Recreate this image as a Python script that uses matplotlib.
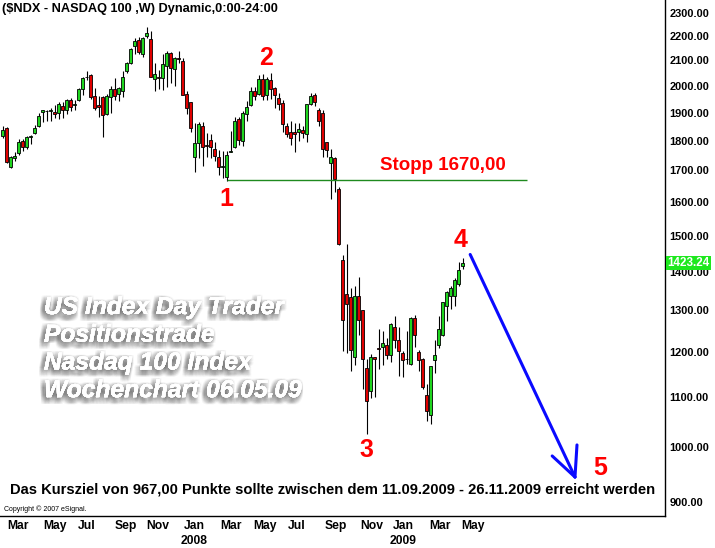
import numpy as np
import matplotlib
matplotlib.use('Agg')
import matplotlib.pyplot as plt
import matplotlib.patheffects as pe
from matplotlib.ticker import FixedLocator, FixedFormatter, NullLocator

plt.rcParams['font.family'] = ['Liberation Sans', 'DejaVu Sans']

# weekly candles, NDX, Feb 2007 - May 2009
opens = [1816, 1844, 1713, 1740, 1757, 1798, 1780, 1813, 1828, 1851,
         1903, 1905, 1905, 1903, 1900, 1923, 1908, 1947, 1927, 1945,
         1988, 2033, 2041, 1961, 1928, 1958, 1893, 1958, 1988, 1970,
         1981, 2057, 2091, 2158, 2185, 2126, 2201, 2190, 2028, 2036,
         2031, 2076, 2128, 2066, 2110, 2097, 1970, 1938, 1743, 1792,
         1853, 1785, 1803, 1773, 1743, 1710, 1680, 1763, 1780, 1878,
         1800, 1895, 1927, 1982, 1970, 2026, 1965, 2022, 1992, 1953,
         1934, 1853, 1832, 1832, 1832, 1838, 1825, 1932, 1966, 1910,
         1897, 1794, 1724, 1742, 1641, 1433, 1341, 1333, 1189, 1336,
         1301, 1163, 1113, 1189, 1210, 1212, 1217, 1192, 1260, 1228,
         1198, 1183, 1173, 1281, 1200, 1185, 1104, 1063, 1181, 1217,
         1240, 1311, 1336, 1336, 1367, 1414]
highs = [1851, 1848, 1747, 1760, 1805, 1805, 1815, 1819, 1855, 1897,
         1911, 1911, 1915, 1926, 1940, 1940, 1949, 1952, 1947, 1992,
         2034, 2057, 2045, 1990, 1961, 1960, 1967, 1998, 2030, 1997,
         2056, 2095, 2152, 2192, 2197, 2198, 2240, 2221, 2090, 2062,
         2125, 2140, 2135, 2115, 2137, 2108, 1982, 1940, 1863, 1866,
         1866, 1826, 1823, 1795, 1767, 1764, 1764, 1833, 1884, 1884,
         1905, 1944, 1997, 1997, 2041, 2047, 2034, 2050, 1997, 1972,
         1947, 1862, 1868, 1862, 1862, 1850, 1933, 1971, 1971, 1917,
         1911, 1796, 1770, 1745, 1648, 1446, 1475, 1356, 1363, 1387,
         1301, 1183, 1196, 1189, 1255, 1250, 1233, 1268, 1286, 1260,
         1203, 1250, 1283, 1288, 1205, 1187, 1128, 1169, 1228, 1285,
         1321, 1348, 1363, 1382, 1426, 1438]
lows = [1809, 1724, 1709, 1730, 1752, 1765, 1770, 1788, 1825, 1848,
        1865, 1871, 1868, 1880, 1875, 1880, 1895, 1905, 1911, 1944,
        1965, 2023, 1950, 1911, 1884, 1812, 1890, 1900, 1947, 1944,
        1957, 2048, 2087, 2125, 2125, 2115, 2194, 2036, 1982, 1987,
        1985, 1997, 2010, 2000, 2088, 1966, 1893, 1831, 1696, 1740,
        1716, 1743, 1741, 1732, 1686, 1677, 1667, 1760, 1774, 1786,
        1783, 1870, 1925, 1947, 1964, 1945, 1948, 1950, 1915, 1911,
        1831, 1812, 1786, 1760, 1800, 1810, 1797, 1927, 1924, 1850,
        1743, 1743, 1610, 1630, 1474, 1203, 1198, 1156, 1171, 1240,
        1117, 1025, 1098, 1100, 1161, 1171, 1185, 1177, 1210, 1145,
        1143, 1173, 1171, 1212, 1158, 1117, 1051, 1045, 1152, 1210,
        1238, 1274, 1303, 1311, 1361, 1408]
closes = [1839, 1728, 1744, 1748, 1795, 1778, 1812, 1816, 1845, 1887,
          1909, 1906, 1910, 1896, 1931, 1911, 1945, 1922, 1932, 1988,
          2030, 2034, 1958, 1918, 1922, 1890, 1960, 1988, 1960, 1992,
          2035, 2091, 2147, 2180, 2136, 2193, 2212, 2036, 2047, 2029,
          2084, 2130, 2071, 2108, 2106, 1966, 1915, 1846, 1792, 1860,
          1780, 1782, 1780, 1747, 1710, 1715, 1752, 1766, 1869, 1802,
          1900, 1920, 1982, 1961, 2026, 1960, 2025, 1987, 1966, 1931,
          1860, 1822, 1811, 1825, 1841, 1826, 1930, 1962, 1938, 1870,
          1772, 1769, 1744, 1673, 1477, 1275, 1316, 1205, 1336, 1277,
          1183, 1092, 1189, 1183, 1208, 1222, 1192, 1267, 1228, 1203,
          1181, 1184, 1281, 1240, 1181, 1121, 1071, 1169, 1192, 1255,
          1321, 1346, 1356, 1377, 1404, 1423.24]

month_pos = [3.9, 13.1, 21.1, 30.9, 38.9, 47.9, 57.1, 65.6, 73.6, 83.4,
             92.4, 100.1, 109.4, 117.6]
month_labels = ['Mar', 'May', 'Jul', 'Sep', 'Nov', 'Jan\n2008', 'Mar', 'May',
                'Jul', 'Sep', 'Nov', 'Jan\n2009', 'Mar', 'May']
price_ticks = [900, 1000, 1100, 1200, 1300, 1400, 1500, 1600, 1700, 1800,
               1900, 2000, 2100, 2200, 2300]
stop_level = 1670
last_close = 1423.24

o = np.array(opens, float)
h = np.array(highs, float)
l = np.array(lows, float)
c = np.array(closes, float)
x = np.arange(len(o))

fig = plt.figure(figsize=(7.15, 5.48), dpi=100)
ax = fig.add_axes([0, 32 / 548, 665 / 715, 516 / 548])
ax.set_yscale('log')

ax.vlines(x, l, h, color='black', lw=0.8, zorder=2)
up = c >= o
cols = np.where(up, '#1fd51f', '#e00000')
ax.bar(x, np.abs(c - o), bottom=np.minimum(o, c), width=0.58, color=cols,
       edgecolor='black', linewidth=0.6, zorder=3)

ax.set_xlim(-0.625, 165.6)
ax.set_ylim(876, 2358)

# axes styling
for s in ['left', 'top']:
    ax.spines[s].set_visible(False)
ax.spines['right'].set_linewidth(1.0)
ax.spines['bottom'].set_linewidth(1.0)
ax.yaxis.tick_right()
ax.yaxis.set_major_locator(FixedLocator(price_ticks))
ax.yaxis.set_major_formatter(FixedFormatter(['%.2f' % p for p in price_ticks]))
ax.yaxis.set_minor_locator(NullLocator())
ax.tick_params(axis='y', length=0, pad=3, labelsize=7.9)
for t in ax.get_yticklabels():
    t.set_fontweight('bold')
ax.xaxis.set_major_locator(FixedLocator(month_pos))
ax.xaxis.set_major_formatter(FixedFormatter(month_labels))
ax.tick_params(axis='x', length=0, pad=3, labelsize=8.7)
for t in ax.get_xticklabels():
    t.set_fontweight('bold')
    t.set_linespacing(1.35)

# last price marker
ax.text(1.004, last_close, '%.2f' % last_close, transform=ax.get_yaxis_transform(),
        ha='left', va='center', fontsize=8.4, fontweight='bold', color='white',
        bbox=dict(boxstyle='square,pad=0.12', fc='#1ee81e', ec='none'),
        clip_on=False, zorder=5)

# stop line
ax.hlines(stop_level, 56.1, 131, color='#1f8a1f', lw=1.0, zorder=4)
ax.text(110.1, 1715, 'Stopp 1670,00', color='#ff0000', fontsize=13.5,
        fontweight='bold', ha='center', va='center')

# wave counts
for lab, xx, yy in [('1', 56, 1610), ('2', 65.9, 2109), ('3', 90.9, 994),
                    ('4', 114.6, 1487), ('5', 149.4, 961)]:
    ax.text(xx, yy, lab, color='#ff0000', fontsize=18, fontweight='bold',
            ha='center', va='center')

# projection arrow
ax.plot([116.9, 143.1], [1447, 944], color='#0a0aff', lw=2.2,
        solid_capstyle='round', zorder=4)
ax.plot([137.4, 143.1], [983, 944], color='#0a0aff', lw=2.2,
        solid_capstyle='round', zorder=4)
ax.plot([143.6, 143.1], [1004, 944], color='#0a0aff', lw=2.2,
        solid_capstyle='round', zorder=4)

ax.text(0.003, 0.994, '($NDX - NASDAQ 100 ,W) Dynamic,0:00-24:00',
        transform=ax.transAxes, ha='left', va='top', fontsize=9.2,
        fontweight='bold')
fig.text(333 / 715, 1 - 490 / 548,
         'Das Kursziel von 967,00 Punkte sollte zwischen dem 11.09.2009 - 26.11.2009 erreicht werden',
         ha='center', va='center', fontsize=10.6, fontweight='bold')
fig.text(4 / 715, 1 - 509 / 548, 'Copyright \u00a9 2007 eSignal.',
         ha='left', va='center', fontsize=5)

# watermark
shadow = [pe.withSimplePatchShadow(offset=(dx, dy), shadow_rgbFace='0.3',
                                   alpha=0.045)
          for dx in (-4, -3, -2, -1, 0, 1) for dy in (-5, -4, -3, -2, -1, 0, 1)]
wm = ['US Index Day Trader', 'Positionstrade', 'Nasdaq 100 Index',
      'Wochenchart 06.05.09']
for i, line in enumerate(wm):
    t = fig.text(44 / 715, 1 - (307 + 27.7 * i) / 548, line, ha='left',
                 va='center', fontsize=17.7, fontweight='bold', style='italic',
                 color='white')
    t.set_path_effects(shadow + [pe.Normal()])

fig.savefig('out.png', dpi=100)
